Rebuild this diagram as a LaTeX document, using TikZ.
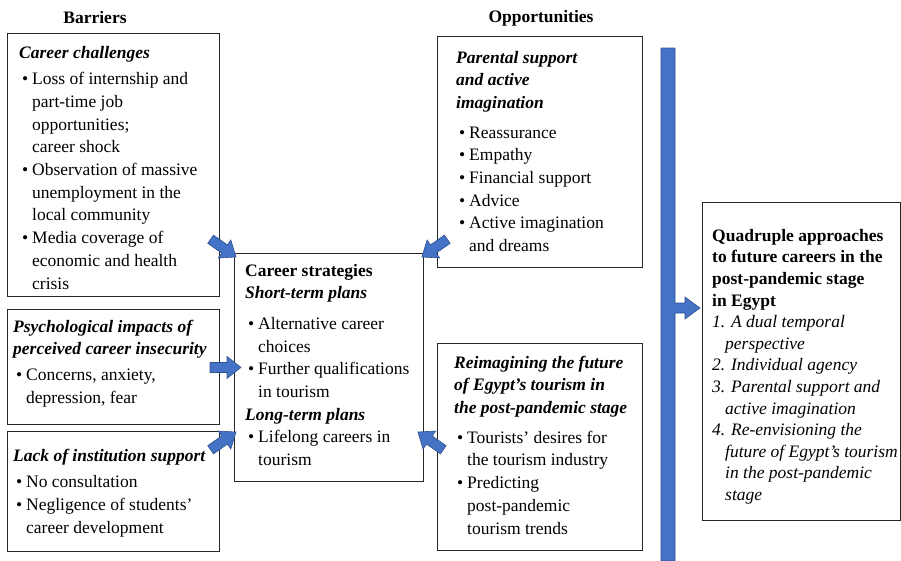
\documentclass[tikz,border=0pt]{standalone}
\usepackage{fontspec}
\setmainfont{Liberation Serif}
\usetikzlibrary{calc}
\definecolor{abfill}{HTML}{4472C4}
\definecolor{abedge}{HTML}{2F528F}
\newcommand{\bl}{\hspace*{3pt}\makebox[10pt][l]{\textbullet}}
\newcommand{\cl}{\hspace*{13pt}}
\newcommand{\bi}[1]{\textbf{\textit{#1}}}
\begin{document}
\begin{tikzpicture}[x=1pt,y=-1pt,
  box/.style={draw=black!85, line width=0.9pt, inner sep=0pt, anchor=north west},
  txt/.style={anchor=north west, inner sep=0pt, align=left, font=\fontsize{17.5}{22.7}\selectfont},
  rtxt/.style={anchor=north west, inner sep=0pt, align=left, font=\fontsize{17.5}{21.6}\selectfont},
  hdr/.style={inner sep=0pt, font=\fontsize{17.5}{21}\selectfont\bfseries},
  pics/barr/.style={code={\filldraw[fill=abfill, draw=abedge, line width=0.6pt]
     (0,0) -- (-14,-11) -- (-14,-5) -- (-31,-5) -- (-31,5) -- (-14,5) -- (-14,11) -- cycle;}}
]
\useasboundingbox (0,0) rectangle (901,560);

% headers
\node[hdr] (hb) at (95,18) {Barriers};
\node[hdr] (ho) at (541,18) {Opportunities};

% boxes
\node[box, minimum width=212, minimum height=263] (b1) at (7,33) {};
\node[box, minimum width=212, minimum height=115] (b2) at (7,309) {};
\node[box, minimum width=212, minimum height=120] (b3) at (7,431) {};
\node[box, minimum width=189, minimum height=228] (cs) at (234,253) {};
\node[box, minimum width=205, minimum height=231] (pa) at (437,36) {};
\node[box, minimum width=205, minimum height=207] (re) at (437,343) {};
\node[box, minimum width=198, minimum height=318] (rb) at (702,202) {};

% texts
\node[txt] (t1) at (19,42) {\strut\bi{Career challenges}\\[4pt]
  \bl Loss of internship and\\ \cl part-time job\\ \cl opportunities;\\ \cl career shock\\
  \bl Observation of massive\\ \cl unemployment in the\\ \cl local community\\
  \bl Media coverage of\\ \cl economic and health\\ \cl crisis};
\node[txt] (t2) at (13,316) {\strut\bi{Psychological impacts of}\\ \bi{perceived career insecurity}\\[3pt]
  \bl Concerns, anxiety,\\ \cl depression, fear};
\node[txt] (t3) at (13,445) {\strut\bi{Lack of institution support}\\[4pt]
  \bl No consultation\\ \bl Negligence of students'\\ \cl career development};
\node[txt] (tc) at (245,260) {\strut\textbf{Career strategies}\\ \bi{Short-term plans}\\[8pt]
  \bl Alternative career\\ \cl choices\\ \bl Further qualifications\\ \cl in tourism\\
  \bi{Long-term plans}\\ \bl Lifelong careers in\\ \cl tourism};
\node[txt] (tp) at (456,47) {\strut\bi{Parental support}\\ \bi{and active}\\ \bi{imagination}\\[7pt]
  \bl Reassurance\\ \bl Empathy\\ \bl Financial support\\ \bl Advice\\
  \bl Active imagination\\ \cl and dreams};
\node[txt] (tr) at (454,352) {\strut\bi{Reimagining the future}\\ \bi{of Egypt's tourism in}\\ \bi{the post-pandemic stage}\\[7pt]
  \bl Tourists' desires for\\ \cl the tourism industry\\ \bl Predicting\\ \cl post-pandemic\\ \cl tourism trends};
\node[rtxt] (tq) at (712,226) {\strut\textbf{Quadruple approaches}\\ \textbf{to future careers in the}\\
  \textbf{post-pandemic stage}\\ \textbf{in Egypt}\\
  \textit{1. A dual temporal}\\ \cl\textit{perspective}\\ \textit{2. Individual agency}\\
  \textit{3. Parental support and}\\ \cl\textit{active imagination}\\ \textit{4. Re-envisioning the}\\
  \cl\textit{future of Egypt's tourism}\\ \cl\textit{in the post-pandemic}\\ \cl\textit{stage}};

% vertical bar with arrow to the final box
\coordinate (qtip) at ($(rb.north west)+(-2,106)$);
\filldraw[fill=abfill, draw=abedge, line width=0.6pt]
  (661,48) -- (675,48) -- ($(qtip)+(-25,-5)$) -- ($(qtip)+(-15,-5)$) -- ($(qtip)+(-15,-11)$)
  -- (qtip) -- ($(qtip)+(-15,11)$) -- ($(qtip)+(-15,5)$) -- ($(qtip)+(-25,5)$) -- (675,561) -- (661,561) -- cycle;

% block arrows into the strategies box
\coordinate (p1) at ($(cs.north west)+(2,4)$);
\coordinate (p2) at ($(cs.north east)+(-2,4)$);
\coordinate (p3) at ($(cs.west)+(7,0)$);
\coordinate (p4) at ($(cs.north west)+(2,179)$);
\coordinate (p5) at ($(cs.north east)+(-6,179)$);
\pic[rotate=-35] at (p1) {barr};
\pic[rotate=-145] at (p2) {barr};
\pic at (p3) {barr};
\pic[rotate=35] at (p4) {barr};
\pic[rotate=145] at (p5) {barr};
\end{tikzpicture}
\end{document}
